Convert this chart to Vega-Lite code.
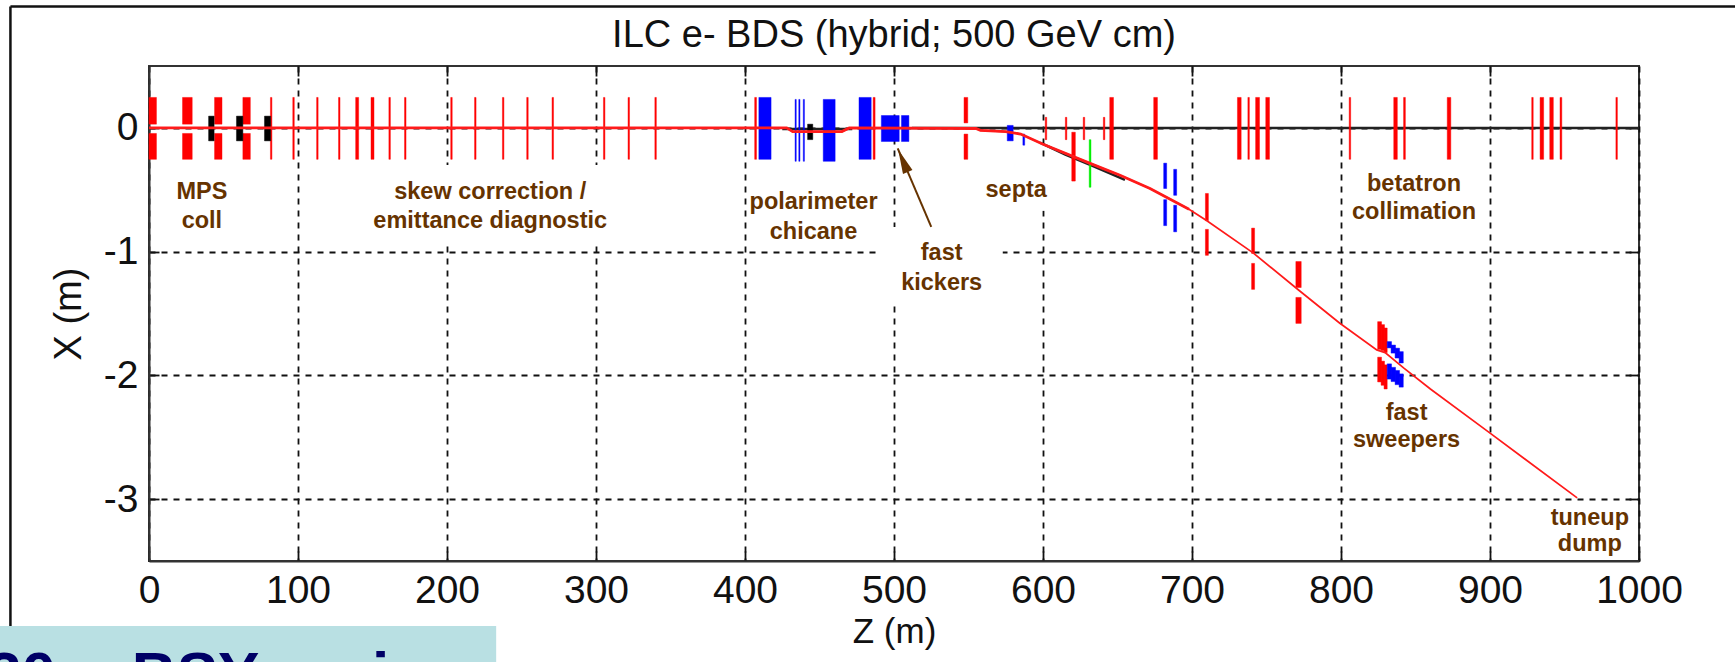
{"$schema":"https://vega.github.io/schema/vega-lite/v6.json","autosize":"none","width":1490,"height":495,"padding":{"left":149,"top":66,"right":96,"bottom":101},"background":"white","view":{"stroke":"#333333","strokeWidth":2},"config":{"axis":{"labelFont":"Liberation Sans","titleFont":"Liberation Sans","labelFontSize":39,"titleFontSize":35,"titleFontWeight":"normal","labelColor":"#111111","titleColor":"#111111"}},"datasets":{"magnets":[{"z":0,"z2":5,"x":0.246,"x2":0.03,"k":"red"},{"z":0,"z2":5,"x":-0.045,"x2":-0.254,"k":"red"},{"z":22.5,"z2":29,"x":0.246,"x2":0.03,"k":"red"},{"z":22.5,"z2":29,"x":-0.045,"x2":-0.254,"k":"red"},{"z":44,"z2":49,"x":0.246,"x2":0.03,"k":"red"},{"z":44,"z2":49,"x":-0.045,"x2":-0.254,"k":"red"},{"z":63,"z2":68,"x":0.246,"x2":0.03,"k":"red"},{"z":63,"z2":68,"x":-0.045,"x2":-0.254,"k":"red"},{"z":81.5,"z2":82.5,"x":0.246,"x2":-0.254,"k":"red"},{"z":96.5,"z2":97.5,"x":0.246,"x2":-0.254,"k":"red"},{"z":112.5,"z2":113.5,"x":0.246,"x2":-0.254,"k":"red"},{"z":127.2,"z2":128.2,"x":0.246,"x2":-0.254,"k":"red"},{"z":138.7,"z2":140.7,"x":0.246,"x2":-0.254,"k":"red"},{"z":149,"z2":151,"x":0.246,"x2":-0.254,"k":"red"},{"z":161,"z2":162,"x":0.246,"x2":-0.254,"k":"red"},{"z":171.5,"z2":172.5,"x":0.246,"x2":-0.254,"k":"red"},{"z":202.5,"z2":203.5,"x":0.246,"x2":-0.254,"k":"red"},{"z":218.5,"z2":219.5,"x":0.246,"x2":-0.254,"k":"red"},{"z":237.2,"z2":238.2,"x":0.246,"x2":-0.254,"k":"red"},{"z":253.5,"z2":254.5,"x":0.246,"x2":-0.254,"k":"red"},{"z":270.5,"z2":271.5,"x":0.246,"x2":-0.254,"k":"red"},{"z":305,"z2":306,"x":0.246,"x2":-0.254,"k":"red"},{"z":321.5,"z2":322.5,"x":0.246,"x2":-0.254,"k":"red"},{"z":339.5,"z2":340.5,"x":0.246,"x2":-0.254,"k":"red"},{"z":406.5,"z2":407.7,"x":0.246,"x2":-0.254,"k":"red"},{"z":486,"z2":487.3,"x":0.246,"x2":-0.254,"k":"red"},{"z":40,"z2":43.7,"x":0.095,"x2":-0.105,"k":"black"},{"z":58.7,"z2":63,"x":0.095,"x2":-0.105,"k":"black"},{"z":77.5,"z2":81.6,"x":0.095,"x2":-0.105,"k":"black"},{"z":442,"z2":445.5,"x":0.03,"x2":-0.095,"k":"black"},{"z":409.3,"z2":417.5,"x":0.246,"x2":-0.254,"k":"blue"},{"z":433.6,"z2":434.4,"x":0.23,"x2":-0.27,"k":"blue"},{"z":436.1,"z2":436.9,"x":0.23,"x2":-0.27,"k":"blue"},{"z":439.1,"z2":439.9,"x":0.23,"x2":-0.27,"k":"blue"},{"z":452.5,"z2":460.5,"x":0.23,"x2":-0.27,"k":"blue"},{"z":476.5,"z2":484.7,"x":0.246,"x2":-0.254,"k":"blue"},{"z":491.5,"z2":503.5,"x":0.1,"x2":-0.11,"k":"blue"},{"z":505,"z2":510,"x":0.1,"x2":-0.11,"k":"blue"},{"z":547,"z2":549.5,"x":0.246,"x2":0.04,"k":"red"},{"z":547,"z2":549.5,"x":-0.05,"x2":-0.254,"k":"red"},{"z":576,"z2":580,"x":0.02,"x2":-0.105,"k":"blue"},{"z":586.5,"z2":587.7,"x":-0.05,"x2":-0.14,"k":"blue"},{"z":601.5,"z2":602.5,"x":0.085,"x2":-0.095,"k":"red"},{"z":615,"z2":616,"x":0.085,"x2":-0.095,"k":"red"},{"z":627,"z2":628,"x":0.085,"x2":-0.095,"k":"red"},{"z":640.5,"z2":641.5,"x":0.085,"x2":-0.095,"k":"red"},{"z":619.3,"z2":621.7,"x":-0.035,"x2":-0.43,"k":"red"},{"z":631,"z2":632.2,"x":-0.095,"x2":-0.48,"k":"green"},{"z":644.8,"z2":647.3,"x":0.246,"x2":-0.254,"k":"red"},{"z":674.3,"z2":676.8,"x":0.246,"x2":-0.254,"k":"red"},{"z":681,"z2":683,"x":-0.285,"x2":-0.49,"k":"blue"},{"z":681,"z2":683,"x":-0.58,"x2":-0.79,"k":"blue"},{"z":687.7,"z2":689.7,"x":-0.335,"x2":-0.545,"k":"blue"},{"z":687.7,"z2":689.7,"x":-0.625,"x2":-0.84,"k":"blue"},{"z":709,"z2":711,"x":-0.53,"x2":-0.75,"k":"red"},{"z":709,"z2":711,"x":-0.82,"x2":-1.03,"k":"red"},{"z":740,"z2":742,"x":-0.81,"x2":-1.015,"k":"red"},{"z":740,"z2":742,"x":-1.095,"x2":-1.305,"k":"red"},{"z":769.7,"z2":773.3,"x":-1.08,"x2":-1.29,"k":"red"},{"z":769.7,"z2":773.3,"x":-1.37,"x2":-1.58,"k":"red"},{"z":730.5,"z2":733,"x":0.246,"x2":-0.254,"k":"red"},{"z":737.5,"z2":738.5,"x":0.246,"x2":-0.254,"k":"red"},{"z":742.7,"z2":745.3,"x":0.246,"x2":-0.254,"k":"red"},{"z":749.5,"z2":752,"x":0.246,"x2":-0.254,"k":"red"},{"z":805.5,"z2":806.5,"x":0.246,"x2":-0.254,"k":"red"},{"z":835.4,"z2":837.8,"x":0.246,"x2":-0.254,"k":"red"},{"z":842,"z2":843.2,"x":0.246,"x2":-0.254,"k":"red"},{"z":871.3,"z2":873.7,"x":0.246,"x2":-0.254,"k":"red"},{"z":928,"z2":929,"x":0.246,"x2":-0.254,"k":"red"},{"z":933.6,"z2":936,"x":0.246,"x2":-0.254,"k":"red"},{"z":940.1,"z2":942.5,"x":0.246,"x2":-0.254,"k":"red"},{"z":947,"z2":948.2,"x":0.246,"x2":-0.254,"k":"red"},{"z":984.5,"z2":985.5,"x":0.246,"x2":-0.254,"k":"red"},{"z":824.6,"z2":827.2,"x":-1.566,"x2":-1.79,"k":"red"},{"z":826.9,"z2":829.2,"x":-1.59,"x2":-1.8,"k":"red"},{"z":828.9,"z2":831,"x":-1.617,"x2":-1.816,"k":"red"},{"z":824.6,"z2":827.2,"x":-1.853,"x2":-2.053,"k":"red"},{"z":826.9,"z2":829.2,"x":-1.885,"x2":-2.08,"k":"red"},{"z":828.9,"z2":831,"x":-1.915,"x2":-2.11,"k":"red"},{"z":831,"z2":833.9,"x":-1.727,"x2":-1.778,"k":"blue"},{"z":833.6,"z2":836.6,"x":-1.755,"x2":-1.82,"k":"blue"},{"z":836.3,"z2":839.3,"x":-1.78,"x2":-1.86,"k":"blue"},{"z":839,"z2":841.8,"x":-1.808,"x2":-1.9,"k":"blue"},{"z":831,"z2":833.9,"x":-1.907,"x2":-2.03,"k":"blue"},{"z":833.6,"z2":836.6,"x":-1.935,"x2":-2.05,"k":"blue"},{"z":836.3,"z2":839.3,"x":-1.96,"x2":-2.075,"k":"blue"},{"z":839,"z2":841.8,"x":-1.988,"x2":-2.095,"k":"blue"}],"beam":[{"z":0,"x":0},{"z":428,"x":0},{"z":432,"x":-0.03},{"z":465,"x":-0.03},{"z":470,"x":0},{"z":555,"x":-0.005},{"z":558,"x":-0.02},{"z":575,"x":-0.03},{"z":585,"x":-0.05},{"z":599.7,"x":-0.13},{"z":631.6,"x":-0.287},{"z":651.7,"x":-0.383},{"z":671.8,"x":-0.49},{"z":698,"x":-0.657},{"z":710,"x":-0.75},{"z":741,"x":-1.01},{"z":771.5,"x":-1.31},{"z":799,"x":-1.577},{"z":824,"x":-1.794},{"z":829.6,"x":-1.816},{"z":842,"x":-1.94},{"z":860,"x":-2.11},{"z":898.7,"x":-2.455},{"z":958.5,"x":-2.99}],"ref":[{"z":512,"x":0,"s":"a"},{"z":1000,"x":0,"s":"a"},{"z":425,"x":-0.01,"s":"b"},{"z":472,"x":-0.01,"s":"b"},{"z":598,"x":-0.12,"s":"c"},{"z":615,"x":-0.215,"s":"c"},{"z":632,"x":-0.3,"s":"c"},{"z":655,"x":-0.42,"s":"c"}],"labels":[{"z":35.5,"x":-0.52,"t":"MPS"},{"z":35.5,"x":-0.75,"t":"coll"},{"z":229,"x":-0.52,"t":"skew correction /"},{"z":229,"x":-0.75,"t":"emittance diagnostic"},{"z":446,"x":-0.6,"t":"polarimeter"},{"z":446,"x":-0.84,"t":"chicane"},{"z":582,"x":-0.5,"t":"septa"},{"z":532,"x":-1.01,"t":"fast"},{"z":532,"x":-1.25,"t":"kickers"},{"z":849,"x":-0.455,"t":"betatron"},{"z":849,"x":-0.68,"t":"collimation"},{"z":844,"x":-2.305,"t":"fast"},{"z":844,"x":-2.525,"t":"sweepers"},{"z":967,"x":-3.15,"t":"tuneup"},{"z":967,"x":-3.36,"t":"dump"}]},"layer":[{"data":{"values":[{"z":133,"z2":310,"x":-0.3,"x2":-0.92},{"z":491,"z2":573,"x":-0.8,"x2":-1.42},{"z":560,"z2":605,"x":-0.26,"x2":-0.67}]},"mark":{"type":"rect","fill":"white"},"encoding":{"x":{"field":"z","type":"quantitative","scale":{"domain":[0,1000],"nice":false},"axis":{"values":[0,100,200,300,400,500,600,700,800,900,1000],"grid":true,"gridColor":"#111111","gridDash":[6,6],"gridWidth":1.8,"domain":true,"domainColor":"#333333","domainWidth":2,"tickSize":-10,"tickColor":"#111111","tickWidth":1.8,"labelPadding":20,"title":"Z (m)","titlePadding":4,"labelExpr":"''+datum.value","labelFlush":false}},"x2":{"field":"z2"},"y":{"field":"x","type":"quantitative","scale":{"domain":[-3.5,0.5],"nice":false},"axis":{"values":[-3,-2,-1,0],"grid":true,"gridColor":"#111111","gridDash":[6,6],"gridWidth":1.8,"domain":true,"domainColor":"#333333","domainWidth":2,"tickSize":-10,"tickColor":"#111111","tickWidth":1.8,"labelPadding":21,"title":"X (m)","titleFontSize":38,"titlePadding":15,"labelExpr":"''+datum.value"}},"y2":{"field":"x2"}}},{"data":{"name":"ref"},"mark":{"type":"line","color":"#222222","strokeWidth":2.5},"encoding":{"x":{"field":"z","type":"quantitative","axis":{"orient":"top","values":[100,200,300,400,500,600,700,800,900],"grid":false,"labels":false,"title":null,"domain":false,"tickSize":-10,"tickColor":"#111111","tickWidth":1.8}},"y":{"field":"x","type":"quantitative","axis":{"orient":"right","values":[-3,-2,-1,0],"grid":false,"labels":false,"title":null,"domain":false,"tickSize":-10,"tickColor":"#111111","tickWidth":1.8}},"detail":{"field":"s"}}},{"data":{"name":"magnets"},"mark":{"type":"rect","strokeWidth":0.8,"strokeOpacity":0.55},"encoding":{"x":{"field":"z","type":"quantitative","axis":null},"x2":{"field":"z2"},"y":{"field":"x","type":"quantitative","axis":null},"y2":{"field":"x2"},"color":{"field":"k","type":"nominal","legend":null,"scale":{"domain":["red","blue","black","green"],"range":["#ff0000","#0000ff","#000000","#00ee00"]}},"stroke":{"field":"k","type":"nominal","legend":null,"scale":{"domain":["red","blue","black","green"],"range":["#ff0000","#0000ff","#000000","#00ee00"]}}}},{"data":{"name":"beam"},"transform":[{"filter":"datum.z <= 699"}],"mark":{"type":"line","color":"#ff2020","strokeWidth":2.8},"encoding":{"x":{"field":"z","type":"quantitative","axis":null},"y":{"field":"x","type":"quantitative","axis":null}}},{"data":{"name":"beam"},"mark":{"type":"line","color":"#ff1a1a","strokeWidth":1.7},"encoding":{"x":{"field":"z","type":"quantitative","axis":null},"y":{"field":"x","type":"quantitative","axis":null}}},{"data":{"values":[{"z":502.5,"x":-0.165},{"z":525,"x":-0.8}]},"mark":{"type":"line","color":"#663300","strokeWidth":2},"encoding":{"x":{"field":"z","type":"quantitative","axis":null},"y":{"field":"x","type":"quantitative","axis":null}}},{"data":{"values":[{"z":506,"x":-0.266}]},"mark":{"type":"point","filled":true,"color":"#663300","opacity":1,"shape":"M0,-1L0.42,1L-0.42,1Z","size":600,"angle":-23},"encoding":{"x":{"field":"z","type":"quantitative","axis":null},"y":{"field":"x","type":"quantitative","axis":null}}},{"data":{"name":"labels"},"mark":{"type":"text","font":"Liberation Sans","fontWeight":"bold","fontSize":23.5,"color":"#663300","align":"center","baseline":"middle"},"encoding":{"x":{"field":"z","type":"quantitative","axis":null},"y":{"field":"x","type":"quantitative","axis":null},"text":{"field":"t"}}},{"data":{"values":[{"z":500,"x":0.743,"t":"ILC e- BDS (hybrid; 500 GeV cm)"}]},"mark":{"type":"text","font":"Liberation Sans","fontSize":38,"color":"#111111","align":"center","baseline":"middle","clip":false},"encoding":{"x":{"field":"z","type":"quantitative","axis":null},"y":{"field":"x","type":"quantitative","axis":null},"text":{"field":"t"}}},{"data":{"values":[{"z":-93,"z2":-93,"x":0.98,"x2":-4.03},{"z":-93,"z2":1065,"x":0.98,"x2":0.98}]},"mark":{"type":"rule","color":"#111111","strokeWidth":2.5,"clip":false},"encoding":{"x":{"field":"z","type":"quantitative","axis":null},"x2":{"field":"z2"},"y":{"field":"x","type":"quantitative","axis":null},"y2":{"field":"x2"}}},{"data":{"values":[{"z":-100,"z2":233,"x":-4.026,"x2":-4.5}]},"mark":{"type":"rect","fill":"#b9e0e3","clip":false},"encoding":{"x":{"field":"z","type":"quantitative","axis":null},"x2":{"field":"z2"},"y":{"field":"x","type":"quantitative","axis":null},"y2":{"field":"x2"}}},{"data":{"values":[{"z":-108.7,"x":-4.585,"t":"20 mr"},{"z":-11.5,"x":-4.585,"t":"BSY region"}]},"mark":{"type":"text","font":"Liberation Sans","fontWeight":"bold","fontSize":62,"color":"#000066","align":"left","baseline":"alphabetic","clip":false},"encoding":{"x":{"field":"z","type":"quantitative","axis":null},"y":{"field":"x","type":"quantitative","axis":null},"text":{"field":"t"}}}],"resolve":{"axis":{"x":"independent","y":"independent"}}}
